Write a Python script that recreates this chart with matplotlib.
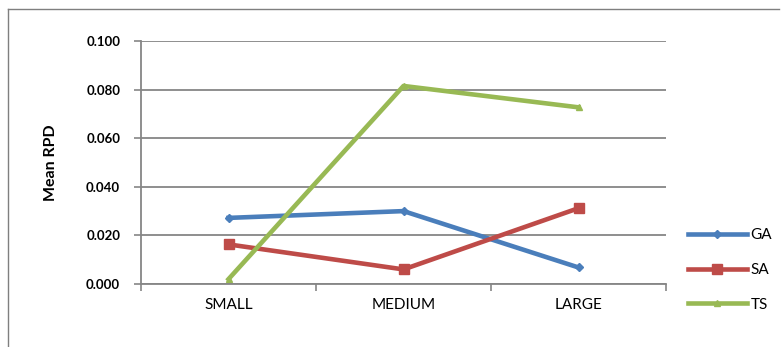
import matplotlib.pyplot as plt
from matplotlib.lines import Line2D

categories = ['SMALL', 'MEDIUM', 'LARGE']
ga = [0.0272, 0.0300, 0.0068]
sa = [0.0163, 0.0060, 0.0312]
ts = [0.0020, 0.0815, 0.0727]
yticks = [0.0, 0.02, 0.04, 0.06, 0.08, 0.1]

plt.rcParams['font.family'] = ['Lato', 'DejaVu Sans']

fig = plt.figure(figsize=(7.81, 3.47), dpi=100)
ax = fig.add_axes([141 / 781, 1 - 284 / 347, 525 / 781, 243 / 347])

x = range(len(categories))
ax.plot(x, ga, color='#4A7EBB', lw=3.3, marker='D', ms=4, label='GA')
ax.plot(x, sa, color='#BE4B48', lw=3.3, marker='s', ms=7, label='SA')
ax.plot(x, ts, color='#98B954', lw=3.3, marker='^', ms=4, label='TS')

ax.set_xlim(-0.5, 2.5)
ax.set_ylim(0, 0.1)
ax.set_yticks(yticks)
ax.set_yticklabels([f'{v:.3f}' for v in yticks], fontweight='bold', fontsize=9.5)
ax.set_xticks(x)
ax.set_xticklabels(categories, fontsize=11)
ax.set_xticks([-0.5, 0.5, 1.5, 2.5], minor=True)
ax.tick_params(axis='x', which='major', length=0, pad=10)
ax.tick_params(axis='x', which='minor', length=5, color='#868686', width=1.2)
ax.tick_params(axis='y', length=5, color='#868686', width=1.2, pad=10)
ax.yaxis.grid(True, color='#868686', lw=1.3)
ax.set_axisbelow(True)
for s in ['top', 'right']:
    ax.spines[s].set_visible(False)
for s in ['left', 'bottom']:
    ax.spines[s].set_color('#868686')
    ax.spines[s].set_linewidth(1.3)
ax.set_ylabel('Mean RPD', fontweight='bold', fontsize=11.5, labelpad=20)

ax.legend(loc='center left', bbox_to_anchor=(680 / 781, 1 - 270 / 347),
          bbox_transform=fig.transFigure, frameon=False, fontsize=11,
          handlelength=3.9, handletextpad=0.2, labelspacing=1.35, borderpad=0)

# outer frame of the chart area
fig.add_artist(Line2D([8 / 781, 779 / 781], [1 - 9 / 347] * 2, color='#7f7f7f', lw=1))
fig.add_artist(Line2D([8 / 781] * 2, [1 - 9 / 347, 0], color='#7f7f7f', lw=1))

fig.savefig('out.png', dpi=100)
